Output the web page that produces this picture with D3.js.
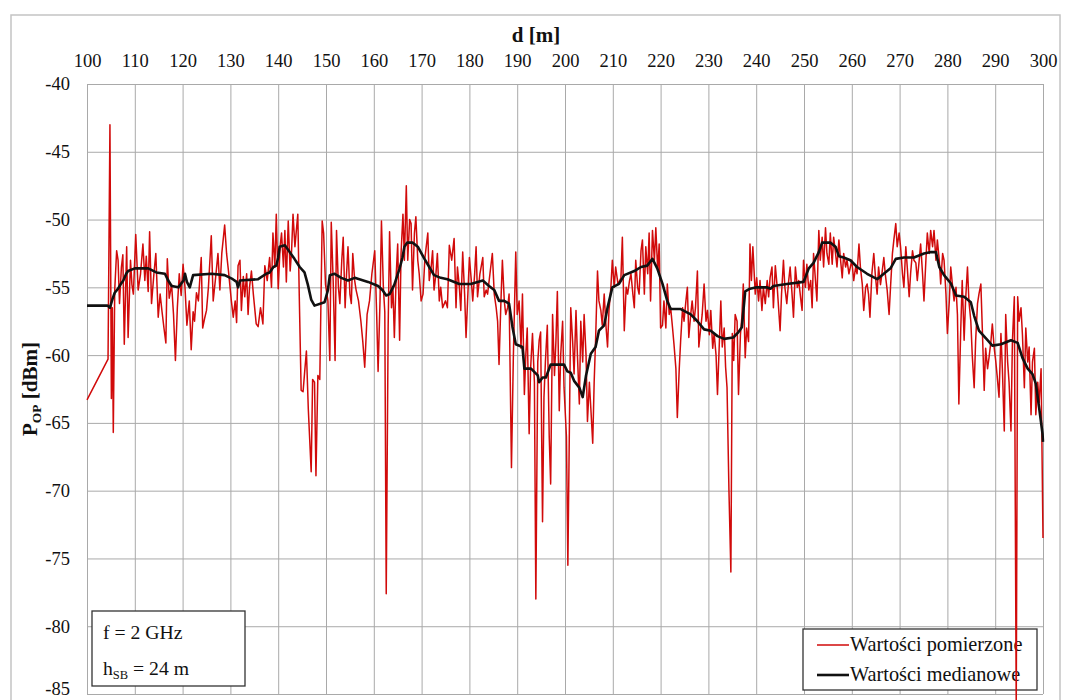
<!DOCTYPE html>
<html>
<head>
<meta charset="utf-8">
<script src="https://cdn.jsdelivr.net/npm/d3@7"></script>
<style>
  html, body { margin: 0; padding: 0; background: #fff; }
  svg { display: block; font-family: "Liberation Serif", "Times New Roman", serif; }
</style>
</head>
<body>
<svg id="chart" width="1066" height="700"></svg>
<script>
// Measured received power along the route (distance in m, power in dBm)
const measuredDist = [
  100, 104.4, 104.8, 105.1, 105.3, 105.5, 105.8, 106.2, 106.5, 106.8, 107.2, 107.5, 107.8, 108.3, 108.6, 109.1, 109.4, 109.7, 110.2,
  110.7, 111.2, 111.7, 112.1, 112.4, 112.8, 113.1, 113.5, 114.0, 114.4, 114.9, 115.3, 115.7, 116.1, 116.5, 116.8, 117.2, 117.7, 118.1, 118.5, 118.9, 119.3, 119.7, 120.1,
  120.5, 120.9, 121.4, 121.8, 122.2, 122.5, 122.9, 123.3, 123.9, 124.2, 124.6, 125.0, 125.4, 126.0, 126.4, 126.9, 127.4, 127.8, 128.2, 128.8, 129.2, 129.6, 130.2,
  130.6, 131.0, 131.3, 131.6, 132.0, 132.3, 132.7, 133.0, 133.4, 133.7, 134.0, 134.4, 134.8, 135.4, 135.8, 136.3, 136.8, 137.2, 137.7, 138.2, 138.6, 138.9, 139.3, 139.6, 140.0,
  140.4, 140.7, 141.1, 141.4, 141.7, 142.1, 142.5, 142.8, 143.1, 143.5, 143.8, 144.1, 144.4, 144.8, 145.2, 145.5, 145.9, 146.3, 146.9, 147.2, 147.6, 147.9, 148.3, 148.7, 149.2, 149.5, 149.9,
  150.4, 150.8, 151.1, 151.5, 151.9, 152.2, 152.6, 152.9, 153.3, 153.6, 154.0, 154.3, 154.6, 155.0, 155.3, 155.6, 156.0, 156.3, 156.8, 157.3, 157.7, 158.1, 158.6, 159.1, 159.6, 160.2,
  160.6, 160.9, 161.3, 161.6, 162.0, 162.3, 162.6, 163.0, 163.3, 163.7, 164.0, 164.3, 164.7, 165.0, 165.4, 165.7, 166.1, 166.4, 166.8, 167.1, 167.5, 167.8, 168.1, 168.5, 168.8, 169.2, 169.5, 169.9,
  170.3, 170.7, 171.3, 171.6, 172.0, 172.3, 172.6, 173.0, 173.3, 173.7, 174.0, 174.4, 175.0, 175.4, 175.8, 176.3, 176.8, 177.2, 177.5, 177.9, 178.2, 178.6, 179.0, 179.3, 180.0,
  180.4, 180.7, 181.1, 181.4, 181.7, 182.2, 182.8, 183.1, 183.5, 183.8, 184.3, 184.8, 185.2, 185.6, 185.9, 186.2, 186.6, 186.9, 187.3, 187.6, 188.0, 188.3, 188.8, 189.2, 189.7, 190.0,
  190.4, 190.8, 191.1, 191.5, 191.8, 192.1, 192.5, 192.8, 193.2, 193.6, 193.9, 194.3, 194.6, 194.9, 195.3, 195.6, 195.9, 196.3, 196.7, 197.0, 197.4, 197.8, 198.1, 198.4, 198.8, 199.1, 199.5, 199.8, 200.3, 200.6,
  201.2, 201.6, 201.9, 202.3, 202.6, 203.0, 203.3, 203.7, 204.0, 204.4, 204.7, 205.1, 205.4, 205.8, 206.1, 206.4, 206.8, 207.1, 207.5, 207.8, 208.2, 208.6, 208.9, 209.2, 209.6, 209.9,
  210.3, 210.6, 211.1, 211.7, 212.0, 212.4, 212.8, 213.1, 213.5, 213.8, 214.2, 214.5, 214.8, 215.2, 215.5, 215.9, 216.2, 216.6, 216.9, 217.3, 217.6, 217.9, 218.3, 218.7, 219.0, 219.4, 219.7, 220.0,
  220.4, 220.7, 221.1, 221.4, 221.8, 222.1, 222.5, 222.8, 223.2, 223.5, 223.9, 224.2, 224.6, 224.9, 225.3, 225.6, 225.9, 226.3, 226.6, 227.0, 227.3, 227.7, 228.0, 228.4, 228.7, 229.1, 229.5, 229.8,
  230.2, 230.5, 230.9, 231.2, 231.6, 231.9, 232.3, 232.6, 232.9, 233.3, 233.6, 233.9, 234.3, 234.7, 235.0, 235.3, 235.6, 236.0, 236.3, 236.7, 237.0, 237.3, 237.7, 238.0, 238.4, 238.7, 239.0, 239.3, 239.8,
  240.1, 240.5, 240.8, 241.2, 241.5, 241.9, 242.3, 242.6, 242.9, 243.3, 243.6, 244.0, 244.4, 245.0, 245.3, 245.7, 246.0, 246.4, 246.8, 247.1, 247.5, 247.8, 248.2, 248.6, 248.9, 249.3, 249.6, 249.9,
  250.3, 250.6, 251.0, 251.4, 251.7, 252.0, 252.4, 252.7, 253.1, 253.4, 253.8, 254.1, 254.5, 254.8, 255.2, 255.5, 255.9, 256.2, 256.6, 256.9, 257.3, 257.6, 258.0, 258.3, 258.7, 259.0, 259.4, 260.0,
  260.4, 260.8, 261.1, 261.5, 261.8, 262.2, 262.5, 262.9, 263.2, 263.5, 263.8, 264.2, 264.6, 264.9, 265.3, 265.6, 266.0, 266.3, 266.7, 267.0, 267.4, 267.8, 268.1, 268.5, 268.8, 269.2, 269.5, 269.9,
  270.2, 270.6, 270.9, 271.3, 271.6, 272.0, 272.3, 272.7, 273.0, 273.4, 273.7, 274.1, 274.4, 274.8, 275.1, 275.5, 275.8, 276.2, 276.5, 276.9, 277.2, 277.6, 277.9, 278.3, 278.6, 279.0, 279.3, 279.7, 280.0,
  280.4, 280.7, 281.1, 281.4, 281.8, 282.1, 282.4, 282.8, 283.1, 283.5, 283.8, 284.2, 284.5, 284.9, 285.2, 285.6, 285.9, 286.3, 286.6, 287.0, 287.3, 287.7, 288.0, 288.4, 288.7, 289.1, 289.4, 289.8,
  290.1, 290.4, 290.8, 291.2, 291.5, 291.9, 292.2, 292.6, 292.9, 293.3, 293.6, 294.0, 294.4, 294.7, 295.0, 295.4, 295.7, 296.1, 296.4, 296.8, 297.1, 297.5, 297.8, 298.2, 298.5, 298.9, 299.2, 299.6, 300.0
];
const measuredPower = [
  -63.3, -60.3, -43.0, -63.2, -56.5, -65.7, -55.2, -52.3, -53.0, -56.2, -53.5, -52.6, -59.2, -52.0, -58.7, -53.0, -54.8, -55.5, -51.1,
  -55.2, -54.0, -51.8, -54.5, -52.7, -55.3, -50.9, -56.2, -54.0, -52.5, -57.2, -55.5, -56.8, -58.0, -59.1, -52.9, -55.8, -54.8, -57.0, -60.4, -56.5, -54.0, -55.6, -53.3,
  -55.0, -57.8, -56.0, -59.6, -56.8, -57.5, -55.4, -56.0, -52.8, -58.0, -57.3, -56.7, -55.0, -51.2, -56.0, -54.3, -52.5, -55.2, -52.5, -50.4, -52.5, -53.8, -56.0,
  -57.2, -56.0, -57.6, -53.4, -53.0, -56.7, -54.2, -55.7, -54.0, -57.0, -55.0, -53.8, -55.5, -57.7, -57.9, -56.5, -57.7, -53.4, -54.5, -52.8, -55.0, -51.0, -53.5, -49.6, -55.1,
  -52.0, -51.0, -53.5, -50.8, -54.6, -50.1, -53.8, -52.3, -49.6, -52.0, -50.8, -49.6, -55.5, -62.6, -62.7, -61.4, -59.7, -64.0, -68.6, -61.8, -62.0, -68.9, -61.5, -61.8, -50.1, -51.0, -54.8,
  -56.0, -60.4, -50.2, -54.5, -60.4, -50.8, -55.0, -56.2, -53.0, -51.3, -56.5, -54.0, -52.0, -55.5, -56.2, -52.5, -54.5, -55.2, -56.0, -57.5, -59.0, -60.9, -57.0, -56.0, -54.0, -52.3,
  -57.0, -61.2, -56.0, -50.1, -55.0, -56.8, -77.6, -58.0, -50.9, -56.5, -55.0, -58.7, -54.0, -51.8, -58.9, -52.5, -49.6, -53.0, -47.5, -53.0, -50.0, -50.3, -55.2, -51.0, -49.8, -53.0, -54.0, -56.0,
  -55.5, -52.8, -51.0, -54.5, -53.5, -52.3, -55.2, -54.0, -52.5, -56.0, -55.0, -56.5, -56.0, -56.5, -51.9, -53.0, -51.4, -56.5, -53.5, -55.0, -56.7, -52.4, -55.5, -58.7, -52.8,
  -54.5, -56.0, -54.0, -52.0, -55.7, -54.0, -52.8, -55.7, -55.2, -55.5, -54.0, -52.5, -55.5, -56.5, -57.5, -60.7, -56.0, -53.0, -56.0, -57.0, -56.5, -55.5, -68.3, -60.0, -52.4, -57.0,
  -56.0, -59.5, -55.5, -62.9, -60.0, -58.0, -65.8, -61.0, -58.4, -62.0, -78.0, -60.5, -58.9, -58.3, -72.3, -63.1, -60.5, -57.8, -66.0, -69.5, -57.0, -61.5, -59.0, -55.3, -64.1, -60.0, -57.5, -62.4, -66.0, -75.5,
  -56.5, -59.0, -61.4, -56.7, -60.0, -63.6, -57.5, -60.5, -57.0, -60.0, -64.9, -62.0, -63.9, -66.5, -62.0, -58.9, -53.8, -56.0, -56.7, -57.8, -55.5, -58.0, -59.4, -56.7, -55.0, -53.0,
  -55.0, -53.5, -54.8, -54.3, -51.3, -58.2, -55.0, -55.5, -54.5, -54.0, -55.5, -56.5, -53.0, -55.0, -55.5, -52.3, -51.5, -55.5, -52.0, -54.0, -51.0, -56.0, -50.8, -53.0, -50.6, -53.8, -51.8, -58.0,
  -57.8, -56.0, -58.0, -54.75, -57.0, -56.5, -58.0, -59.2, -61.0, -64.6, -61.0, -58.9, -56.5, -57.5, -56.0, -55.0, -58.7, -57.0, -56.0, -57.5, -56.5, -53.8, -59.4, -58.0, -57.0, -54.75, -57.5, -56.7,
  -58.5, -56.7, -59.5, -58.4, -60.0, -62.9, -59.0, -56.0, -59.4, -58.0, -60.9, -62.4, -70.0, -76.0, -58.4, -60.4, -57.0, -57.5, -62.9, -58.5, -57.2, -54.75, -60.2, -58.0, -59.0, -51.8, -54.5, -52.0, -55.5,
  -54.3, -56.0, -54.5, -56.7, -55.0, -56.2, -54.5, -55.7, -54.3, -53.5, -56.5, -53.4, -55.0, -58.2, -55.5, -53.0, -55.0, -56.2, -54.5, -53.5, -55.5, -57.2, -53.5, -55.0, -54.5, -55.8, -56.7, -53.0,
  -55.0, -53.3, -55.2, -54.5, -56.5, -52.5, -54.5, -56.0, -50.8, -53.0, -51.3, -53.5, -50.6, -52.5, -53.3, -51.0, -53.3, -51.3, -52.5, -53.5, -51.5, -52.8, -54.3, -52.5, -53.5, -53.0, -54.0, -53.0,
  -54.5, -53.5, -54.0, -51.8, -53.5, -54.8, -56.7, -55.0, -54.75, -55.5, -57.2, -54.0, -52.5, -54.0, -55.5, -53.5, -54.8, -54.0, -52.8, -54.0, -55.2, -57.0, -55.0, -52.5, -51.5, -50.3, -52.0, -51.0,
  -52.0, -54.0, -55.0, -52.0, -53.5, -55.7, -54.0, -52.3, -53.0, -53.2, -54.5, -53.0, -51.8, -54.0, -56.0, -53.0, -51.0, -52.5, -50.8, -52.0, -50.8, -53.0, -51.5, -53.0, -54.75, -52.5, -53.0, -55.5, -58.4,
  -56.0, -53.5, -55.0, -56.0, -55.0, -57.0, -63.6, -58.0, -54.5, -58.9, -56.0, -53.5, -56.0, -57.5, -60.0, -62.4, -59.0, -56.2, -55.5, -54.75, -58.0, -62.6, -59.5, -61.0, -60.2, -59.0, -57.7, -59.5,
  -60.4, -61.5, -63.1, -58.4, -61.0, -65.6, -57.0, -60.5, -62.0, -65.6, -59.0, -55.7, -86.0, -55.7, -57.5, -56.5, -58.5, -62.4, -58.0, -60.5, -59.4, -64.4, -60.5, -59.5, -64.4, -62.0, -63.5, -61.0, -73.5
];

// Running median of the measurements
const medianDist = [
  100, 104.3, 104.8, 105.3, 105.8, 106.5, 107.0, 107.6, 108.2, 108.6, 110.0, 112.8, 114.5, 116.3, 117.0, 117.7, 119.1, 120.2, 120.5, 120.9, 121.5, 122.2,
  126.0, 128.8, 130.5, 131.3, 131.6, 132.0, 135.8, 137.5, 138.2, 139.0, 139.6, 140.0, 140.3, 141.4, 142.4, 143.4, 144.5, 145.5, 146.2, 146.9, 147.6, 149.7,
  150.4, 150.8, 151.8, 153.2, 154.6, 156.0, 158.8, 160.9, 161.8, 162.6, 163.3, 164.3, 165.4, 166.0, 166.4, 167.0, 168.1, 169.2, 170.6, 171.6, 172.6, 174.0,
  175.4, 177.9, 180.3, 182.8, 184.1, 185.2, 186.2, 187.3, 188.3, 189.0, 189.7, 191.1, 191.5, 192.9, 194.3, 194.6, 195.3, 196.0, 197.0, 199.8, 200.5, 201.2,
  201.9, 203.0, 203.7, 204.4, 205.4, 206.4, 207.1, 208.2, 208.9, 209.9, 211.3, 212.4, 214.5, 215.9, 217.2, 218.3, 219.3, 220.4, 221.4, 222.1, 224.2, 226.3,
  227.7, 229.1, 230.5, 231.9, 233.3, 235.2, 236.3, 237.0, 237.7, 238.7, 240.1, 242.2, 243.0, 243.6, 246.4, 249.9, 251.0, 252.0, 253.1, 253.8, 255.5, 256.6,
  257.3, 258.3, 259.7, 261.1, 263.2, 265.3, 266.7, 268.1, 269.2, 270.9, 273.0, 275.1, 276.6, 277.6, 278.3, 279.3, 280.7, 281.8, 283.5, 284.9, 285.6, 286.6,
  288.4, 289.4, 291.2, 293.3, 294.7, 295.7, 296.8, 297.8, 298.5, 299.2, 299.9, 300.0
];
const medianPower = [
  -56.35, -56.35, -56.5, -55.9, -55.4, -55.1, -54.8, -54.5, -54.0, -53.8, -53.6, -53.6, -53.9, -54.0, -54.5, -54.9, -55.0, -54.5, -54.0, -54.6, -55.0, -54.1,
  -54.0, -54.1, -54.4, -54.6, -55.0, -54.5, -54.4, -54.0, -53.9, -53.5, -53.4, -52.8, -52.0, -51.9, -52.4, -52.9, -53.5, -53.9, -54.8, -55.9, -56.35, -56.1,
  -55.2, -54.1, -54.0, -54.3, -54.5, -54.3, -54.6, -54.9, -55.2, -55.6, -55.5, -54.8, -53.6, -52.8, -52.0, -51.7, -51.7, -52.0, -52.9, -53.5, -54.1, -54.3,
  -54.4, -54.75, -54.75, -54.5, -54.9, -55.2, -56.0, -56.0, -56.2, -57.9, -59.2, -59.4, -61.0, -61.0, -61.5, -62.0, -61.65, -61.65, -60.7, -60.7, -61.2, -61.3,
  -61.9, -62.4, -63.1, -61.5, -59.9, -59.4, -58.2, -57.8, -56.5, -55.0, -54.75, -54.1, -53.8, -53.5, -53.4, -52.9, -53.6, -54.75, -56.0, -56.6, -56.6, -57.0,
  -57.5, -58.1, -58.2, -58.6, -58.8, -58.7, -58.3, -57.95, -55.3, -55.1, -55.0, -55.0, -55.1, -54.9, -54.75, -54.6, -53.6, -53.2, -52.4, -51.7, -51.7, -52.0,
  -52.7, -52.8, -53.0, -53.5, -54.0, -54.4, -54.0, -53.6, -52.9, -52.8, -52.8, -52.5, -52.4, -52.4, -53.5, -54.1, -54.7, -55.6, -55.7, -56.1, -57.1, -58.2,
  -58.9, -59.3, -59.2, -58.9, -59.1, -60.2, -61.0, -61.4, -62.1, -63.9, -65.8, -66.4
];

const xTicks = d3.range(100, 301, 10);
const yTicks = d3.range(-40, -86, -5);
const seriesNames = ["Wartości pomierzone", "Wartości medianowe"];

const svg = d3.select("#chart");
const W = 1066, H = 700;
const plot = { left: 87, right: 1043, top: 84, bottom: 694 };

const x = d3.scaleLinear().domain([100, 300]).range([plot.left, plot.right]);
const y = d3.scaleLinear().domain([-40, -85]).range([plot.top, plot.bottom]);

svg.append("rect").attr("width", W).attr("height", H).attr("fill", "#fff");

// outer chart frame
svg.append("rect")
  .attr("x", 11).attr("y", 15).attr("width", 1049).attr("height", 700)
  .attr("fill", "none").attr("stroke", "#c4c4c4").attr("stroke-width", 1.5);

const gridColor = "#a9a9a9";
const plainNumber = d => String(d);

// vertical grid via top axis
const xAxis = d3.axisTop(x).tickValues(xTicks).tickSize(-(plot.bottom - plot.top)).tickFormat(plainNumber);
const gx = svg.append("g").attr("transform", `translate(0,${plot.top})`).call(xAxis);
gx.select(".domain").attr("stroke", gridColor);
gx.selectAll(".tick line").attr("stroke", gridColor).attr("stroke-width", 1);
gx.selectAll(".tick text")
  .attr("y", -17).attr("fill", "#111")
  .style("font-family", "'Liberation Serif', serif").style("font-size", "18.5px");

// horizontal grid via left axis
const yAxis = d3.axisLeft(y).tickValues(yTicks).tickSize(-(plot.right - plot.left)).tickFormat(plainNumber);
const gy = svg.append("g").attr("transform", `translate(${plot.left},0)`).call(yAxis);
gy.select(".domain").attr("stroke", gridColor);
gy.selectAll(".tick line").attr("stroke", gridColor).attr("stroke-width", 1);
gy.selectAll(".tick text")
  .attr("x", -17).attr("fill", "#111")
  .style("font-family", "'Liberation Serif', serif").style("font-size", "18.5px");
// lowest label sits at the bottom edge; lift it so it stays readable
gy.selectAll(".tick text").filter(d => d === -85).attr("dy", "0.05em");

// axis titles
svg.append("text")
  .attr("x", 536).attr("y", 42).attr("text-anchor", "middle")
  .attr("font-weight", "bold").attr("font-size", "21px").attr("fill", "#111")
  .text("d [m]");

const yTitle = svg.append("text")
  .attr("transform", "translate(37,389) rotate(-90)")
  .attr("text-anchor", "middle")
  .attr("font-weight", "bold").attr("font-size", "21px").attr("fill", "#111");
yTitle.append("tspan").text("P");
yTitle.append("tspan").attr("font-size", "13.5px").attr("dy", 4).text("OP");
yTitle.append("tspan").attr("dy", -4).text(" [dBm]");

// legend box (drawn before the measured series, which runs across it)
const lg = svg.append("g");
lg.append("rect")
  .attr("x", 803).attr("y", 629).attr("width", 234).attr("height", 61)
  .attr("fill", "#fff").attr("stroke", "#333").attr("stroke-width", 1.3);
const legendColors = ["#d10a0a", "#111"];
const legendWidths = [1.5, 2.6];
seriesNames.forEach((name, i) => {
  const ly = 645 + i * 30;
  lg.append("line").attr("x1", 817).attr("x2", 849).attr("y1", ly).attr("y2", ly)
    .attr("stroke", legendColors[i]).attr("stroke-width", legendWidths[i]);
  lg.append("text").attr("x", 850).attr("y", ly + 6)
    .attr("font-size", "20.3px").attr("fill", "#111").text(name);
});

// info box
const ib = svg.append("g");
ib.append("rect")
  .attr("x", 92).attr("y", 611).attr("width", 153).attr("height", 75)
  .attr("fill", "#fff").attr("stroke", "#333").attr("stroke-width", 1.3);
ib.append("text").attr("x", 103).attr("y", 639).attr("font-size", "19.7px").attr("fill", "#111").text("f = 2 GHz");
const ht = ib.append("text").attr("x", 103).attr("y", 675).attr("font-size", "19.7px").attr("fill", "#111");
ht.append("tspan").text("h");
ht.append("tspan").attr("font-size", "12.5px").attr("dy", 4).text("SB");
ht.append("tspan").attr("dy", -4).text(" = 24 m");

// series
const measured = measuredDist.map((d, i) => [d, measuredPower[i]]);
const median = medianDist.map((d, i) => [d, medianPower[i]]);
const line = d3.line().x(d => x(d[0])).y(d => y(d[1]));

svg.append("path").datum(measured)
  .attr("d", line).attr("fill", "none")
  .attr("stroke", "#d10a0a").attr("stroke-width", 1.5).attr("stroke-linejoin", "round");

svg.append("path").datum(median)
  .attr("d", line).attr("fill", "none")
  .attr("stroke", "#111").attr("stroke-width", 2.6).attr("stroke-linejoin", "round");
</script>
</body>
</html>
